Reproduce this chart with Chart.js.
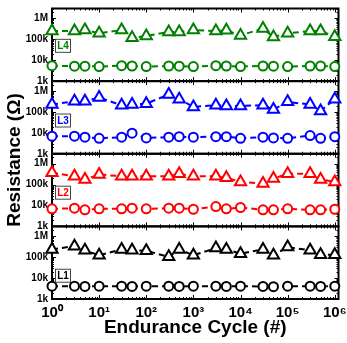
<!DOCTYPE html>
<html>
<head>
<meta charset="utf-8">
<script src="https://cdn.jsdelivr.net/npm/chart.js@4/dist/chart.umd.min.js"></script>
<style>
  html, body { margin: 0; padding: 0; background: #fff; }
</style>
</head>
<body>
<canvas id="chart" width="347" height="343"></canvas>
<script>
// endurance cycles where each level was read
const cycles = [1, 3, 5, 10, 30, 50, 100, 300, 500, 1e3, 3e3, 5e3, 1e4, 3e4, 5e4, 1e5, 3e5, 5e5, 1e6];

// resistance (ohm), high state (triangles) and low state (circles) per level
const l4High = [250e3, 250e3, 280e3, 195e3, 280e3, 120e3, 145e3, 225e3, 225e3, 280e3, 250e3, 270e3, 155e3, 330e3, 130e3, 195e3, 250e3, 250e3, 135e3];
const l4Low  = [5.5e3, 5.2e3, 5.2e3, 5.0e3, 5.5e3, 5.3e3, 5.0e3, 5.3e3, 5.2e3, 5.0e3, 5.5e3, 5.3e3, 5.0e3, 5.3e3, 5.2e3, 5.0e3, 5.3e3, 5.3e3, 5.0e3];
const l3High = [226e3, 330e3, 330e3, 490e3, 210e3, 226e3, 250e3, 690e3, 410e3, 175e3, 210e3, 195e3, 195e3, 210e3, 130e3, 305e3, 226e3, 112e3, 410e3];
const l3Low  = [6.9e3, 6.9e3, 6.2e3, 5.5e3, 6.2e3, 9.6e3, 5.7e3, 6.2e3, 6.6e3, 6.2e3, 6.6e3, 6.6e3, 5.5e3, 6.2e3, 5.7e3, 5.5e3, 7.4e3, 5.5e3, 6.6e3];
const l2High = [367e3, 250e3, 175e3, 305e3, 250e3, 250e3, 250e3, 250e3, 330e3, 250e3, 250e3, 210e3, 135e3, 112e3, 195e3, 330e3, 330e3, 175e3, 135e3];
const l2Low  = [6.9e3, 7.4e3, 6.2e3, 6.9e3, 6.9e3, 7.4e3, 6.9e3, 7.4e3, 7.4e3, 6.6e3, 8.9e3, 6.9e3, 8.0e3, 6.2e3, 6.2e3, 6.9e3, 6.2e3, 6.2e3, 6.6e3];
const l1High = [237e3, 340e3, 213e3, 124e3, 237e3, 213e3, 205e3, 104e3, 237e3, 124e3, 274e3, 237e3, 148e3, 237e3, 124e3, 305e3, 213e3, 133e3, 133e3];
const l1Low  = [4.1e3, 4.1e3, 4.0e3, 4.1e3, 4.1e3, 4.0e3, 4.1e3, 4.1e3, 4.0e3, 4.1e3, 4.1e3, 4.0e3, 4.1e3, 4.0e3, 3.9e3, 4.1e3, 4.1e3, 4.0e3, 4.1e3];

const levels = ['L4', 'L3', 'L2', 'L1'];
const levelColors = ['#008000', '#0000ff', '#ff0000', '#000000'];
const levelLabelAt = [49e3, 39e3, 41e3, 13e3];

const xTickValues = [1, 10, 100, 1e3, 1e4, 1e5, 1e6];
const xTickLabels = ['10⁰', '10¹', '10²', '10³', '10⁴', '10⁵', '10⁶'];
const yTickValues = [1e3, 1e4, 1e5, 1e6];
const yTickLabels = ['1k', '10k', '100k', '1M'];

const highs = [l4High, l3High, l2High, l1High];
const lows = [l4Low, l3Low, l2Low, l1Low];
const panelIds = ['y4', 'y3', 'y2', 'y1'];

const FONT = '"Liberation Sans", Arial, sans-serif';
Chart.defaults.font.family = FONT;
Chart.defaults.color = '#000';

const toPoints = (vals) => cycles.map((c, i) => ({ x: c, y: vals[i] }));

const datasets = [];
levels.forEach((lv, i) => {
  [[highs[i], 'triangle', 6.5], [lows[i], 'circle', 4.5]].forEach(([vals, style, r]) => {
    datasets.push({
      label: lv,
      data: toPoints(vals),
      yAxisID: panelIds[i],
      borderColor: levelColors[i],
      borderWidth: 2,
      borderDash: [6, 4],
      pointStyle: style,
      pointRadius: r,
      pointBorderWidth: 2,
      pointBackgroundColor: '#fff',
      pointBorderColor: levelColors[i],
      fill: false,
      tension: 0,
      clip: false
    });
  });
});

const yScale = (i) => ({
  type: 'logarithmic',
  position: 'left',
  stack: 'panels',
  stackWeight: 1,
  weight: 4 - i,
  min: 1e3,
  max: 3e6,
  border: { display: true, color: '#000', width: 2 },
  grid: { display: false, drawTicks: false },
  ticks: {
    autoSkip: false,
    padding: 4,
    font: { size: 10, weight: 'bold' },
    callback: (v, idx) => yTickLabels[idx]
  },
  afterBuildTicks: (s) => { s.ticks = yTickValues.map(v => ({ value: v })); },
  afterFit: (s) => { s.width = 50; s.paddingTop = 0; s.paddingBottom = 0; }
});

const scales = {
  x: {
    type: 'logarithmic',
    position: 'bottom',
    min: 1,
    max: 1.2e6,
    border: { display: true, color: '#000', width: 2 },
    grid: { display: false, drawTicks: false },
    ticks: {
      autoSkip: false,
      maxRotation: 0,
      padding: 5,
      font: { size: 15, weight: 'bold' },
      callback: (v, idx) => xTickLabels[idx]
    },
    afterBuildTicks: (s) => { s.ticks = xTickValues.map(v => ({ value: v })); },
    title: {
      display: true,
      text: 'Endurance Cycle (#)',
      font: { size: 19, weight: 'bold' },
      padding: { top: 0, bottom: 2 }
    },
    afterFit: (s) => { s.height = 42; s.paddingLeft = 0; s.paddingRight = 0; }
  }
};
panelIds.forEach((id, i) => { scales[id] = yScale(i); });

// boxes and inward ticks for each panel
const panelFrame = {
  id: 'panelFrame',
  beforeDatasetsDraw(chart) {
    const ctx = chart.ctx;
    const area = chart.chartArea;
    const xs = chart.scales.x;
    ctx.save();
    ctx.strokeStyle = '#000';
    panelIds.forEach((id) => {
      const ys = chart.scales[id];
      ctx.lineWidth = 1;
      ctx.beginPath();
      for (let e = 0; e <= 6; e++) {
        for (let m = 1; m <= 9; m++) {
          const v = m * Math.pow(10, e);
          if (v > xs.max) continue;
          const px = Math.round(xs.getPixelForValue(v)) + 0.5;
          const len = m === 1 ? 4 : 2;
          ctx.moveTo(px, ys.bottom); ctx.lineTo(px, ys.bottom - len);
          ctx.moveTo(px, ys.top); ctx.lineTo(px, ys.top + len);
        }
      }
      for (let e = 3; e <= 6; e++) {
        for (let m = 1; m <= 9; m++) {
          const v = m * Math.pow(10, e);
          if (v > ys.max) continue;
          const py = Math.round(ys.getPixelForValue(v)) + 0.5;
          const len = m === 1 ? 4 : 2;
          ctx.moveTo(area.left, py); ctx.lineTo(area.left + len, py);
          ctx.moveTo(area.right, py); ctx.lineTo(area.right - len, py);
        }
      }
      ctx.stroke();
      ctx.lineWidth = 2;
      ctx.strokeRect(area.left, ys.top, area.right - area.left, ys.bottom - ys.top);
    });
    ctx.restore();
  },
  afterDraw(chart) {
    const ctx = chart.ctx;
    const area = chart.chartArea;
    ctx.save();
    // level tags
    ctx.font = 'bold 10px ' + FONT;
    ctx.textAlign = 'center';
    ctx.textBaseline = 'middle';
    panelIds.forEach((id, i) => {
      const ys = chart.scales[id];
      const cy = ys.getPixelForValue(levelLabelAt[i]);
      const bx = area.left + 3;
      ctx.fillStyle = '#fff';
      ctx.fillRect(bx, cy - 6.5, 15, 13);
      ctx.strokeStyle = '#444';
      ctx.lineWidth = 1;
      ctx.strokeRect(bx + 0.5, cy - 6.5, 15, 13);
      ctx.fillStyle = levelColors[i];
      ctx.fillText(levels[i], bx + 8, cy + 0.5);
    });
    // shared y title
    ctx.translate(15, 160);
    ctx.rotate(-Math.PI / 2);
    ctx.font = 'bold 19px ' + FONT;
    ctx.fillStyle = '#000';
    ctx.fillText('Resistance (Ω)', 0, 0);
    ctx.restore();
  }
};

new Chart(document.getElementById('chart'), {
  type: 'line',
  data: { datasets },
  options: {
    responsive: false,
    animation: false,
    layout: { padding: { top: 5, right: 3, left: 2, bottom: 2 } },
    plugins: { legend: { display: false }, tooltip: { enabled: false } },
    scales
  },
  plugins: [panelFrame]
});
</script>
</body>
</html>
